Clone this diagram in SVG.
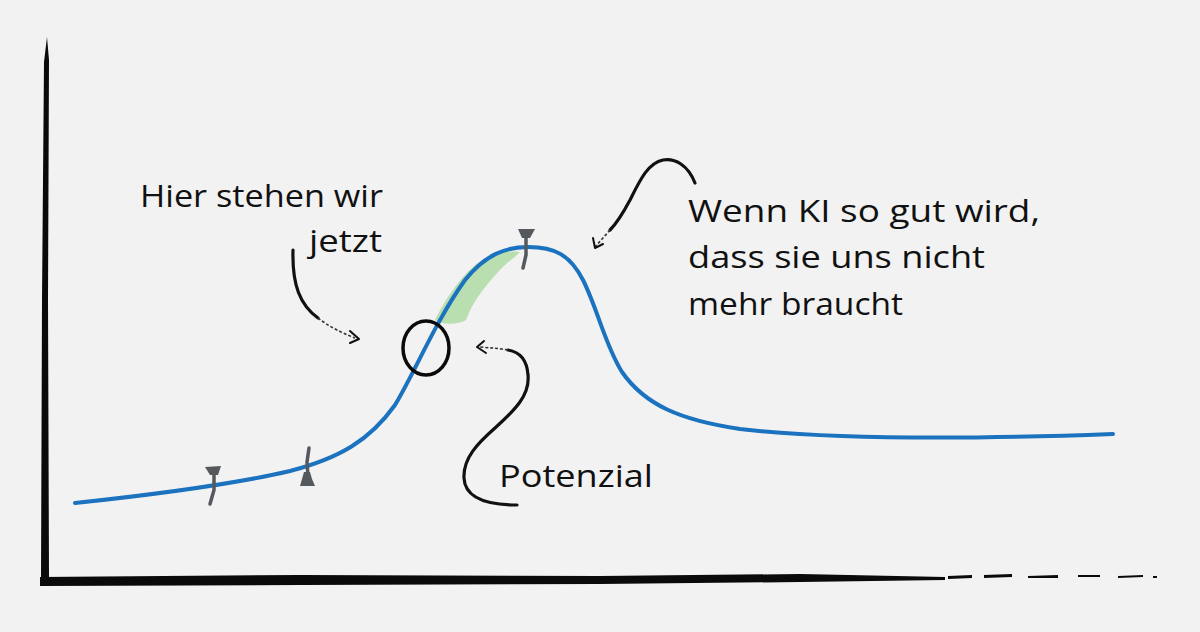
<svg xmlns="http://www.w3.org/2000/svg" width="1200" height="632" viewBox="0 0 1200 632">
<style>
.bg{fill:#f2f2f2}
.axis{fill:#0a0a0a}
.curve{fill:none;stroke:#1b72bf;stroke-width:4;stroke-linecap:round}
.hl{fill:#b3dca8;opacity:.9}
.ring{fill:none;stroke:#0a0a0a;stroke-width:3.5}
.pin{fill:#55595e}
.pinl{fill:none;stroke:#55595e;stroke-width:3.5;stroke-linecap:round}
.arr{fill:none;stroke:#111;stroke-width:3.2;stroke-linecap:round}
.arrd{fill:none;stroke:#333;stroke-width:1.6;stroke-dasharray:3 2}
.head{fill:none;stroke:#111;stroke-width:2;stroke-linecap:round;stroke-linejoin:round}
.t{font-family:"Open Sans","Liberation Sans",sans-serif;font-size:31px;fill:#111}
</style>
<rect class="bg" x="0" y="0" width="1200" height="632"/>
<g id="axes">
<path class="axis" d="M44,62 L47,37 L49,60 L48,300 L49,577 L41,579 L42,300 Z"/>
<path class="axis" d="M40,577 L300,575 L600,576 L800,574 L945,577 L945,580 L800,582 L600,584 L300,585 L40,586 Z"/>
<path class="axis" d="M948,576 L972,575 L972,578 L948,579 Z M984,575 L1012,574 L1012,577 L984,578 Z M1028,576 L1058,575 L1058,578 L1028,578 Z M1078,575 L1100,575 L1100,577 L1078,577 Z M1118,576 L1143,575 L1143,577 L1118,578 Z M1153,576 L1157,576 L1157,578 L1153,578 Z"/>
</g>
<g id="highlight">
<path class="hl" d="M435,320 C445,300 458,280 475,265 C490,254 505,250 520,252 C512,260 505,264 500,270 C488,283 473,300 466,320 C458,325 442,325 435,320 Z"/>
</g>
<g id="curve">
<path class="curve" d="M75,503 C150,495 230,485 290,471 C340,458 370,440 395,405 C415,372 435,322 465,280 C485,255 505,247 528,247 C555,247 570,255 583,280 C598,310 605,345 622,372 C645,405 680,420 740,429 C820,438 950,440 1113,434"/>
</g>
<g id="pin1">
<path class="pin" d="M205,467 L221,466 L218,475 L210,475 Z"/>
<path class="pinl" d="M214,472 L214,490 L210,504"/>
</g>
<g id="pin2">
<path class="pinl" d="M309,448 L307,462 L308,476"/>
<path class="pin" d="M304,472 L310,472 L312,479 L315,486 L300,486 L302,479 Z"/>
</g>
<g id="pin3">
<path class="pin" d="M518,229 L535,229 L530,238 L522,238 Z"/>
<path class="pinl" d="M526,235 L526,255 L523,268"/>
</g>
<g id="marker-circle">
<ellipse class="ring" cx="426" cy="348" rx="23" ry="27"/>
</g>
<g id="connectors">
<path class="arr" d="M293,250 C292,285 300,305 318,318"/>
<path class="arrd" d="M318,318 C328,326 340,332 355,338"/>
<polyline class="head" points="350,331 359,339 350,343"/>
<path class="arr" d="M695,183 C688,165 675,158 663,160 C648,163 640,180 630,200 C622,215 615,225 610,230"/>
<path class="arrd" d="M610,230 C605,236 600,241 595,247"/>
<polyline class="head" points="593,238 595,248 603,244"/>
<path class="arr" d="M517,505 C490,505 465,500 464,478 C463,458 478,443 495,428 C515,410 530,395 528,375 C527,360 520,352 508,350"/>
<path class="arrd" d="M508,350 C498,348 490,348 480,347"/>
<polyline class="head" points="484,341 477,347 486,353"/>
</g>
<g id="label-jetzt">
<text class="t" x="140" y="207" textLength="243" lengthAdjust="spacingAndGlyphs">Hier stehen wir</text>
<text class="t" x="309" y="252" textLength="73" lengthAdjust="spacingAndGlyphs">jetzt</text>
</g>
<g id="label-potenzial">
<text class="t" x="499" y="487" textLength="154" lengthAdjust="spacingAndGlyphs">Potenzial</text>
</g>
<g id="label-ki">
<text class="t" x="688" y="222" textLength="352" lengthAdjust="spacingAndGlyphs">Wenn KI so gut wird,</text>
<text class="t" x="688" y="268" textLength="297" lengthAdjust="spacingAndGlyphs">dass sie uns nicht</text>
<text class="t" x="688" y="315" textLength="215" lengthAdjust="spacingAndGlyphs">mehr braucht</text>
</g>
</svg>
